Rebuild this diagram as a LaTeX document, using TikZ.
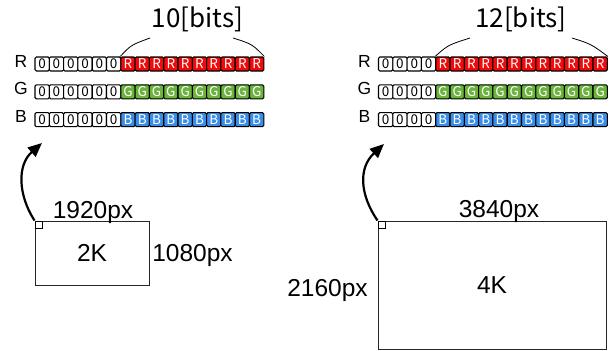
\documentclass[tikz,border=0pt]{standalone}
\usepackage{fontspec}
\setmainfont{Liberation Sans}
\newfontfamily\jpfont{Noto Sans CJK JP}
\usetikzlibrary{arrows.meta}
\definecolor{bitred}{HTML}{F00A0A}
\definecolor{bitgreen}{HTML}{6AB43C}
\definecolor{bitblue}{HTML}{3A8EE8}
\tikzset{
  cell/.style={draw=black, line width=1.1pt, rounded corners=1.3pt, minimum width=14.3pt, minimum height=14pt, inner sep=0pt, font=\jpfont\fontsize{13.5}{13.5}\selectfont},
  zero/.style={cell, fill=white, text=black},
  rbit/.style={cell, fill=bitred, text=white},
  gbit/.style={cell, fill=bitgreen, text=white},
  bbit/.style={cell, fill=bitblue, text=white},
  chan/.style={font=\fontsize{17.5}{17.5}\selectfont, anchor=base, inner sep=0pt},
  dimfont/.style={font=\fontsize{24.5}{24.5}\selectfont},
  dim/.style={dimfont, anchor=base, inner sep=0pt},
  bits/.style={font=\jpfont\fontsize{26}{26}\selectfont, anchor=base, inner sep=0pt},
  frame/.style={draw=black!85, line width=1pt, inner sep=0pt, dimfont},
  bendarrow/.style={line width=2.2pt, -{Triangle[length=14pt,width=12pt]}},
  brace/.style={line width=0.8pt},
  corner/.style={draw=black, line width=0.8pt, fill=white, minimum size=7pt, inner sep=0pt, anchor=north west}
}
\begin{document}
\begin{tikzpicture}[x=1pt,y=-1pt]
\useasboundingbox (0,0) rectangle (614,351);
% left bit rows (6 zeros + 10 bits)
\foreach \row/\y/\st in {R/64/rbit, G/91.8/gbit, B/119.6/bbit} {
  \foreach \i in {1,...,16} {
    \ifnum\i<7
      \node[zero] (L\row\i) at ({35+(\i-0.5)*14.3},\y) {0};
    \else
      \node[\st] (L\row\i) at ({35+(\i-0.5)*14.3},\y) {\row};
    \fi
  }
}
% right bit rows (4 zeros + 12 bits)
\foreach \row/\y/\st in {R/64/rbit, G/91.8/gbit, B/119.6/bbit} {
  \foreach \i in {1,...,16} {
    \ifnum\i<5
      \node[zero] (Q\row\i) at ({378.5+(\i-0.5)*14.3},\y) {0};
    \else
      \node[\st] (Q\row\i) at ({378.5+(\i-0.5)*14.3},\y) {\row};
    \fi
  }
}
% channel labels
\node[chan] (lR) at (21,67) {R};
\node[chan] (lG) at (21,94.8) {G};
\node[chan] (lB) at (21,122.6) {B};
\node[chan] (rR) at (364.5,67) {R};
\node[chan] (rG) at (364.5,94.8) {G};
\node[chan] (rB) at (364.5,122.6) {B};
% bit counts
\node[bits] (lbits) at (197.5,27) {10[bits]};
\node[bits] (rbits) at (521,27) {12[bits]};
\coordinate (lb1) at (150,38);
\coordinate (lb2) at (233,38);
\coordinate (rb1) at (470,38);
\coordinate (rb2) at (572,38);
\draw[brace] (LR7.north west) .. controls (131,45) .. (lb1);
\draw[brace] (lb2) .. controls (252,44) .. (LR16.north east);
\draw[brace] (QR5.north west) .. controls (448,45) .. (rb1);
\draw[brace] (rb2) .. controls (591,44) .. (QR16.north east);
% screens
\node[frame, minimum width=114pt, minimum height=64pt] (box2k) at (92,253) {2K};
\node[frame, minimum width=228pt, minimum height=128pt] (box4k) at (492,285) {4K};
\node[dim] (w2k) at (93,218) {1920px};
\node[dim] (h2k) at (192.5,261) {1080px};
\node[dim] (w4k) at (499,217.5) {3840px};
\node[dim] (h4k) at (327.5,296) {2160px};
% arrows
\coordinate (t2k) at (42,143);
\coordinate (t4k) at (384,144);
\draw[bendarrow] (box2k.north west) .. controls (18,195) and (17,165) .. (t2k);
\draw[bendarrow] (box4k.north west) .. controls (360,195) and (358,168) .. (t4k);
\node[corner] (c2k) at (box2k.north west) {};
\node[corner] (c4k) at (box4k.north west) {};
\end{tikzpicture}
\end{document}
